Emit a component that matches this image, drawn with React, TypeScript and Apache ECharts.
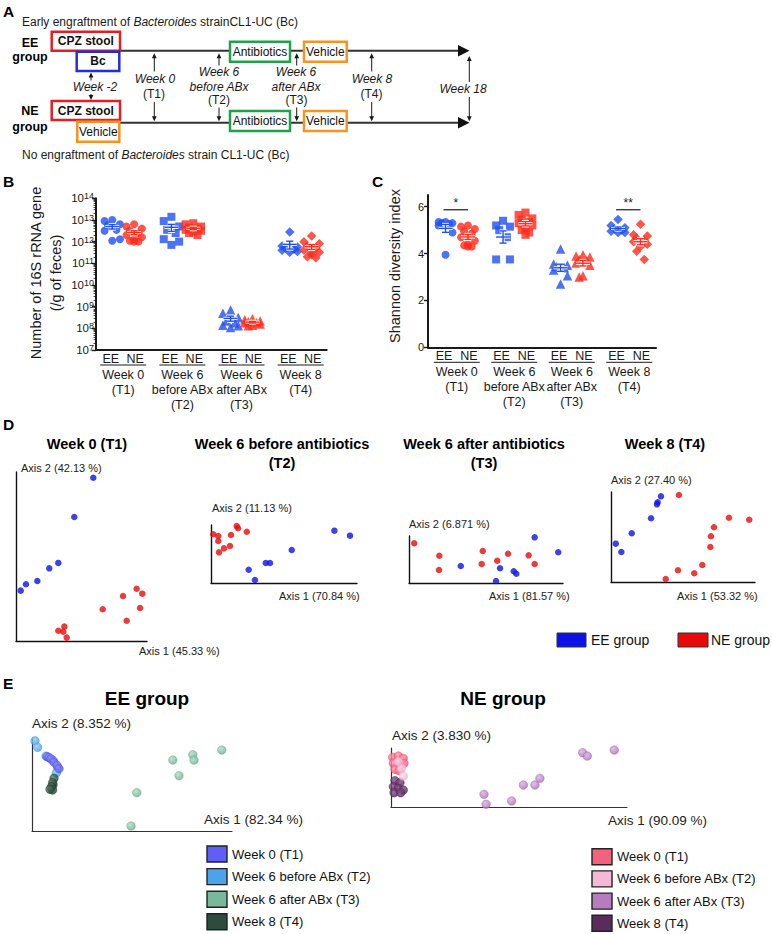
import React, { useEffect, useRef } from "react";
import * as echarts from "echarts";

const FONT = "'Liberation Sans', Arial, Helvetica, sans-serif";
const INK = "#1a1a1a";

// ---------------- Panels B & C ----------------
const PERIOD_LABELS = [
  ["Week 0", "(T1)"],
  ["Week 6", "before ABx", "(T2)"],
  ["Week 6", "after ABx", "(T3)"],
  ["Week 8", "(T4)"],
];
const GROUPS = ["EE", "NE"];
const SYMBOLS = ["circle", "rect", "triangle", "diamond"];
const SYMBOL_SIZES = [8, 8, 9.5, 9.5];
const JITTER = [0, -1, 1, -0.55, 0.55, -1, 1, 0, -0.55, 0.55, 0];

// B: number of 16S rRNA gene copies (/g of feces)
const B_EE_T1 = [1.0e13, 8.9e12, 6.3e12, 5.6e12, 3.5e12, 3.2e12, 1.3e12, 1.1e12];
const B_NE_T1 = [6.3e12, 5.0e12, 4.0e12, 3.2e12, 2.5e12, 2.0e12, 1.6e12, 1.3e12, 1.1e12, 1.0e12, 1.0e12];
const B_EE_T2 = [1.4e13, 8.9e12, 5.0e12, 3.5e12, 2.5e12, 1.3e12, 1.0e12, 7.1e11];
const B_NE_T2 = [7.1e12, 6.3e12, 5.0e12, 4.5e12, 4.0e12, 3.5e12, 3.2e12, 2.8e12, 2.5e12, 2.0e12];
const B_EE_T3 = [7.1e8, 5.0e8, 3.2e8, 2.2e8, 1.8e8, 1.4e8, 1.3e8, 1.1e8];
const B_NE_T3 = [2.8e8, 2.5e8, 2.2e8, 2.0e8, 1.8e8, 1.8e8, 1.6e8, 1.4e8, 1.3e8];
const B_EE_T4 = [2.8e12, 6.3e11, 5.6e11, 5.0e11, 4.5e11, 4.0e11, 3.5e11, 3.2e11];
const B_NE_T4 = [1.8e12, 1.0e12, 7.9e11, 6.3e11, 5.0e11, 4.0e11, 3.2e11, 2.5e11, 2.0e11, 1.8e11, 3.2e11];

// C: Shannon diversity index
const C_TICKS = [0, 2, 4, 6];
const C_EE_T1 = [5.35, 5.35, 5.3, 5.3, 5.25, 5.2, 4.9, 3.95];
const C_NE_T1 = [5.2, 5.15, 5.05, 4.95, 4.85, 4.7, 4.55, 4.4, 4.35, 4.3, 4.3];
const C_EE_T2 = [5.4, 5.2, 5.15, 5.0, 4.7, 3.75, 3.75];
const C_NE_T2 = [5.75, 5.65, 5.5, 5.45, 5.35, 5.3, 5.2, 5.1, 5.0, 4.9, 4.8];
const C_EE_T3 = [4.2, 3.55, 3.5, 3.45, 3.4, 3.3, 3.05, 2.7];
const C_NE_T3 = [3.95, 3.9, 3.85, 3.75, 3.7, 3.6, 3.5, 3.05, 3.0];
const C_EE_T4 = [5.45, 5.2, 5.1, 5.05, 5.0, 4.95, 4.9, 4.9];
const C_NE_T4 = [5.25, 4.8, 4.75, 4.65, 4.55, 4.5, 4.4, 4.3, 4.1, 3.75];
const C_SIGNIF = [
  { period: 0, label: "*" },
  { period: 3, label: "**" },
];

// ---------------- Panel D (PCoA per time point) ----------------
const D_TITLES = [["Week 0 (T1)"], ["Week 6 before antibiotics", "(T2)"], ["Week 6 after antibiotics", "(T3)"], ["Week 8 (T4)"]];
const D_AXIS1 = ["Axis 1 (45.33 %)", "Axis 1 (70.84 %)", "Axis 1 (81.57 %)", "Axis 1 (53.32 %)"];
const D_AXIS2 = ["Axis 2 (42.13 %)", "Axis 2 (11.13 %)", "Axis 2 (6.871 %)", "Axis 2 (27.40 %)"];
const D1_EE = [[59.0, 96.6], [44.5, 73.4], [32.3, 46.2], [25.4, 43.0], [16.3, 35.5], [7.6, 33.6], [3.6, 29.8]];
const D1_NE = [[92.1, 30.9], [96.4, 28.0], [81.7, 26.6], [66.2, 18.8], [94.7, 19.5], [84.5, 12.0], [36.9, 8.5], [32.3, 6.1], [36.1, 5.5], [38.7, 2.0]];
const D2_EE = [[84.5, 90.2], [95.2, 81.6], [55.3, 56.9], [37.5, 34.5], [40.4, 34.5], [25.8, 22.9], [30.1, 5.2]];
const D2_NE = [[1.6, 84.0], [5.0, 81.0], [5.0, 72.4], [13.7, 82.8], [17.6, 98.3], [18.5, 94.3], [24.5, 88.4], [13.0, 63.8], [8.9, 59.8], [5.5, 52.9]];
const D3_EE = [[81.6, 97.2], [96.9, 65.3], [33.6, 36.2], [59.1, 31.3], [68.0, 24.9], [69.7, 19.8], [56.5, 4.3]];
const D3_NE = [[3.4, 84.5], [19.7, 58.1], [19.5, 27.7], [47.9, 68.1], [47.2, 40.4], [57.3, 47.4], [64.3, 62.3], [77.7, 58.9], [81.6, 40.4]];
const D4_EE = [[34.7, 95.2], [32.4, 88.6], [31.9, 86.3], [27.8, 70.8], [14.4, 54.1], [3.3, 42.6], [7.2, 33.3]];
const D4_NE = [[47.2, 96.7], [81.9, 71.4], [96.0, 69.2], [71.5, 60.8], [69.4, 50.8], [69.0, 38.9], [63.4, 18.9], [46.5, 13.0], [57.8, 9.7], [38.0, 3.3]];
const D_LEGEND = ["EE group", "NE group"];

// ---------------- Panel E (PCoA per group) ----------------
const E_TITLES = ["EE group", "NE group"];
const E_AXIS1 = ["Axis 1 (82.34 %)", "Axis 1 (90.09 %)"];
const E_AXIS2 = ["Axis 2 (8.352 %)", "Axis 2 (3.830 %)"];
const E_LEGEND = ["Week 0 (T1)", "Week 6 before ABx (T2)", "Week 6 after ABx (T3)", "Week 8 (T4)"];
const E_EE_T1 = [[7.5, 80], [8.5, 79], [9.5, 77.5], [11, 74], [12.5, 70.5], [13.5, 67]];
const E_EE_T2 = [[1.5, 97], [2.8, 90], [7, 80.5], [10.5, 76], [12.8, 68], [12.2, 62.5]];
const E_EE_T3 = [[94.9, 87.1], [80.4, 82.0], [81.0, 76.3], [70.4, 76.3], [73.5, 59.5], [52.4, 41.2], [49.5, 5.4]];
const E_EE_T4 = [[11.0, 56.7], [10.5, 49.5], [10.3, 51.9], [9.8, 47.6], [10.3, 44.1], [9.0, 44.8]];
const E_NE_T1 = [[0.7, 84.2], [3.1, 86.4], [5.2, 82.5], [1.0, 74.1], [3.8, 71.2], [5.5, 74.1], [1.7, 63.9], [3.5, 61.5]];
const E_NE_T2 = [[4.5, 65.6], [5.2, 52.5], [3.1, 76.8]];
const E_NE_T3 = [[94.6, 96.6], [81.2, 92.0], [83.2, 86.4], [63.1, 48.6], [61.0, 37.3], [56.1, 37.3], [39.4, 21.5], [40.3, 4.6], [51.1, 10.2]];
const E_NE_T4 = [[1.7, 44.6], [3.8, 41.2], [1.0, 34.4], [3.1, 31.7], [5.2, 28.8], [1.3, 24.2], [4.1, 24.2]];

// ---------------- styles ----------------
const PT_BLUE = "#1f4ff2";
const PT_RED = "#ff2b1c";
const D_BLUE = "#0d12e6";
const D_RED = "#e80a0a";
const E_EE_COLORS = [
  ["#5252ea", "#9090ff", "#5f5ff7"],
  ["#3e9be6", "#93cdf6", "#4aa3eb"],
  ["#69ad8f", "#b0dcc8", "#78b99c"],
  ["#203d2f", "#55766a", "#2c4d3d"],
];
const E_NE_COLORS = [
  ["#e8506e", "#ff9aae", "#f2627c"],
  ["#eeaccf", "#fde3f0", "#f5b9d8"],
  ["#a86cb2", "#dbb0e1", "#b77cc0"],
  ["#4f2452", "#85508a", "#5b2b5d"],
];
const BOX_RED = "#e31e24";
const BOX_BLUE = "#1f2fe0";
const BOX_GREEN = "#1fa34a";
const BOX_ORANGE = "#f7931e";

const B_SEP = 0.185;
const C_SEP = 0.195;

function meanSem(a: number[]) {
  const n = a.length;
  const m = a.reduce((s, v) => s + v, 0) / n;
  const sd = Math.sqrt(a.reduce((s, v) => s + (v - m) * (v - m), 0) / (n - 1));
  return [m, sd / Math.sqrt(n)];
}

const errRender = (color: string) => (params: any, api: any) => {
  const x = api.value(0);
  const c = api.coord([x, api.value(1)]);
  const lo = api.coord([x, api.value(2)]);
  const hi = api.coord([x, api.value(3)]);
  const segs = [
    [c[0] - 7, c[1], c[0] + 7, c[1]],
    [c[0], lo[1], c[0], hi[1]],
    [c[0] - 3.5, lo[1], c[0] + 3.5, lo[1]],
    [c[0] - 3.5, hi[1], c[0] + 3.5, hi[1]],
  ];
  const mk = (stroke: string, w: number) =>
    segs.map((s) => ({ type: "line", shape: { x1: s[0], y1: s[1], x2: s[2], y2: s[3] }, style: { stroke, lineWidth: w } }));
  return { type: "group", children: [...mk("#ffffff", 3.2), ...mk(color, 1.4)] };
};

function dotSeries(axis: number, groups: number[][][], sep: number, spread: number) {
  const out: any[] = [];
  groups.forEach((periods, gi) => {
    const color = gi ? PT_RED : PT_BLUE;
    const off = gi ? sep : -sep;
    periods.forEach((vals, p) => {
      out.push({
        type: "scatter",
        xAxisIndex: axis,
        yAxisIndex: axis,
        symbol: SYMBOLS[p],
        symbolSize: SYMBOL_SIZES[p],
        itemStyle: { color },
        clip: false,
        silent: true,
        z: 3,
        data: vals.map((v, i) => [p + off + JITTER[i % JITTER.length] * spread, v]),
      });
    });
    out.push({
      type: "custom",
      xAxisIndex: axis,
      yAxisIndex: axis,
      z: 4,
      silent: true,
      renderItem: errRender(color),
      encode: { x: 0, y: [1, 2, 3] },
      data: periods.map((vals, p) => {
        const [m, s] = meanSem(vals);
        return [p + off, m, m - s, m + s];
      }),
    });
  });
  return out;
}

const plainAxis = (gi: number, min: number, max: number, w: number, color: string) => ({
  gridIndex: gi,
  type: "value",
  min,
  max,
  axisLine: { show: true, onZero: false, lineStyle: { color, width: w } },
  axisTick: { show: false },
  axisLabel: { show: false },
  splitLine: { show: false },
});

function sphere(c: string[]) {
  return {
    type: "radial",
    x: 0.38,
    y: 0.35,
    r: 0.7,
    colorStops: [
      { offset: 0, color: c[1] },
      { offset: 1, color: c[0] },
    ],
  };
}

function buildOption() {
  const grids = [
    { left: 96, top: 198.3, width: 230.7, height: 151.7 }, // B
    { left: 428, top: 195, width: 228, height: 152.3 }, // C
    { left: 16, top: 472, width: 131, height: 169 }, // D1
    { left: 211, top: 525, width: 146, height: 58 }, // D2
    { left: 409, top: 536, width: 154, height: 47 }, // D3
    { left: 611, top: 492, width: 144, height: 90 }, // D4
    { left: 32, top: 738, width: 200, height: 93 }, // E EE
    { left: 391, top: 748, width: 236, height: 59 }, // E NE
  ].map((g) => ({ ...g, outerBoundsMode: "none", containLabel: false }));

  const xAxis: any[] = [
    plainAxis(0, -0.46, 3.44, 2, INK),
    plainAxis(1, -0.5, 3.465, 2, INK),
    plainAxis(2, 0, 100, 1.4, "#111"),
    plainAxis(3, 0, 100, 1.4, "#111"),
    plainAxis(4, 0, 100, 1.4, "#111"),
    plainAxis(5, 0, 100, 1.4, "#111"),
    plainAxis(6, 0, 100, 1.2, "#333"),
    plainAxis(7, 0, 100, 1.2, "#333"),
  ];
  const yAxis: any[] = [
    {
      gridIndex: 0,
      type: "log",
      logBase: 10,
      min: 1e7,
      max: 1e14,
      splitNumber: 7,
      axisLine: { show: true, onZero: false, lineStyle: { color: INK, width: 2 } },
      axisTick: { show: true, length: 4, lineStyle: { color: INK, width: 1.4 } },
      minorTick: { show: true, splitNumber: 9, length: 2.5, lineStyle: { color: INK, width: 0.8 } },
      splitLine: { show: false },
      minorSplitLine: { show: false },
      axisLabel: {
        show: true,
        margin: 2,
        formatter: (v: number) => `{b|10}{s|${Math.round(Math.log10(v))}}`,
        rich: {
          b: { fontSize: 11.5, fontFamily: FONT, color: INK, lineHeight: 13 },
          s: { fontSize: 9, fontFamily: FONT, color: INK, lineHeight: 9, verticalAlign: "top" },
        },
      },
    },
    {
      gridIndex: 1,
      type: "value",
      min: 0,
      max: 6.5,
      axisLine: { show: true, onZero: false, lineStyle: { color: INK, width: 2 } },
      axisTick: { show: true, length: 4, customValues: C_TICKS, lineStyle: { color: INK, width: 1.4 } },
      axisLabel: { show: true, customValues: C_TICKS, fontSize: 11, fontFamily: FONT, color: INK, margin: 4 },
      splitLine: { show: false },
    },
    plainAxis(2, 0, 100, 1.4, "#111"),
    plainAxis(3, 0, 100, 1.4, "#111"),
    plainAxis(4, 0, 100, 1.4, "#111"),
    plainAxis(5, 0, 100, 1.4, "#111"),
    plainAxis(6, 0, 100, 1.2, "#333"),
    plainAxis(7, 0, 100, 1.2, "#333"),
  ];

  const series: any[] = [];
  series.push(
    ...dotSeries(0, [[B_EE_T1, B_EE_T2, B_EE_T3, B_EE_T4], [B_NE_T1, B_NE_T2, B_NE_T3, B_NE_T4]], B_SEP, 0.13)
  );
  series.push(
    ...dotSeries(1, [[C_EE_T1, C_EE_T2, C_EE_T3, C_EE_T4], [C_NE_T1, C_NE_T2, C_NE_T3, C_NE_T4]], C_SEP, 0.12)
  );

  const dPairs = [
    [D1_EE, D1_NE],
    [D2_EE, D2_NE],
    [D3_EE, D3_NE],
    [D4_EE, D4_NE],
  ];
  dPairs.forEach((pair, k) => {
    pair.forEach((data, gi) => {
      series.push({
        type: "scatter",
        xAxisIndex: 2 + k,
        yAxisIndex: 2 + k,
        data,
        symbolSize: 6.5,
        itemStyle: { color: gi ? D_RED : D_BLUE },
        clip: false,
        silent: true,
      });
    });
  });

  const eSets = [
    { axis: 6, sets: [E_EE_T1, E_EE_T2, E_EE_T3, E_EE_T4], colors: E_EE_COLORS, order: [1, 0, 3, 2] },
    { axis: 7, sets: [E_NE_T1, E_NE_T2, E_NE_T3, E_NE_T4], colors: E_NE_COLORS, order: [3, 0, 1, 2] },
  ];
  eSets.forEach((e) => {
    e.order.forEach((t, zi) => {
      series.push({
        type: "scatter",
        xAxisIndex: e.axis,
        yAxisIndex: e.axis,
        data: e.sets[t],
        symbolSize: 8.5,
        z: 2 + zi,
        itemStyle: { color: sphere(e.colors[t]), borderColor: e.colors[t][0], borderWidth: 0.6 },
        clip: false,
        silent: true,
      });
    });
  });

  return {
    animation: false,
    backgroundColor: "#ffffff",
    textStyle: { fontFamily: FONT },
    grid: grids,
    xAxis,
    yAxis,
    series,
  };
}

function buildGraphics(chart: any) {
  const g: any[] = [];
  const T = (x: number, y: number, text: string, o: any = {}) =>
    g.push({
      type: "text",
      x,
      y,
      rotation: o.rot || 0,
      z: 50,
      style: {
        text,
        fontFamily: FONT,
        fontSize: o.size || 12,
        fontWeight: o.bold ? "bold" : "normal",
        fontStyle: o.italic ? "italic" : "normal",
        fill: o.color || INK,
        align: o.align || "left",
        verticalAlign: "middle",
        lineHeight: o.lh,
        rich: o.rich,
      },
    });
  const L = (x1: number, y1: number, x2: number, y2: number, stroke = INK, w = 1) =>
    g.push({ type: "line", z: 40, shape: { x1, y1, x2, y2 }, style: { stroke, lineWidth: w } });
  const P = (pts: number[][], fill = INK) => g.push({ type: "polygon", z: 41, shape: { points: pts }, style: { fill } });
  const R = (x: number, y: number, w: number, h: number, fill: string, stroke: string, lw: number, z = 45) =>
    g.push({ type: "rect", z, shape: { x, y, width: w, height: h }, style: { fill, stroke, lineWidth: lw } });

  // ---------- Panel A ----------
  T(3, 11, "A", { bold: true, size: 15.5, color: "#000" });
  const ital = { i: { fontStyle: "italic", fontFamily: FONT, fontSize: 12, fill: INK } };
  T(22, 22, "Early engraftment of {i|Bacteroides} strainCL1-UC (Bc)", { rich: ital });
  T(22, 155, "No engraftment of {i|Bacteroides} strain CL1-UC (Bc)", { rich: ital });
  T(30, 42.5, "EE", { bold: true, size: 12.5, align: "center", color: "#000" });
  T(30, 57, "group", { bold: true, size: 12.5, align: "center", color: "#000" });
  T(30, 111, "NE", { bold: true, size: 12.5, align: "center", color: "#000" });
  T(30, 126.5, "group", { bold: true, size: 12.5, align: "center", color: "#000" });

  // timelines
  L(120, 50.7, 460, 50.7, "#333", 2);
  P([[458, 45], [469.5, 50.7], [458, 56.4]], "#111");
  L(119, 122.7, 460, 122.7, "#333", 2);
  P([[458, 117], [469.5, 122.7], [458, 128.4]], "#111");

  const box = (x: number, y: number, w: number, h: number, color: string, text: string, bold = false) => {
    R(x, y, w, h, "#ffffff", color, 2.5);
    T(x + w / 2, y + h / 2, text, { align: "center", bold, size: 12, color: "#111" });
  };
  box(51.7, 31.7, 68.3, 19, BOX_RED, "CPZ stool", true);
  box(76.7, 51.7, 42.6, 19.3, BOX_BLUE, "Bc", true);
  box(230, 41.7, 60, 20, BOX_GREEN, "Antibiotics");
  box(304, 41.7, 42.7, 20, BOX_ORANGE, "Vehicle");
  box(51.7, 101, 68.3, 19, BOX_RED, "CPZ stool", true);
  box(77.3, 121.7, 42, 20, BOX_ORANGE, "Vehicle");
  box(230, 111, 60, 20, BOX_GREEN, "Antibiotics");
  box(304, 111, 42.7, 20, BOX_ORANGE, "Vehicle");

  const arrow = (x: number, yFrom: number, yTo: number) => {
    const dir = yTo > yFrom ? 1 : -1;
    L(x, yFrom, x, yTo - dir * 4, INK, 1);
    P([[x - 2.4, yTo - dir * 5], [x + 2.4, yTo - dir * 5], [x, yTo]], INK);
  };
  // Week -2
  arrow(91, 80.5, 72.5);
  arrow(91, 94, 100);
  T(95, 87, "Week -2", { italic: true, align: "center" });
  // Week 0 (T1)
  arrow(154.3, 71.5, 53.3);
  arrow(154.3, 102, 121.3);
  T(155, 79, "Week 0", { italic: true, align: "center" });
  T(154, 94, "(T1)", { align: "center" });
  // Week 6 before ABx (T2)
  arrow(219, 65.5, 53.3);
  arrow(219, 107.5, 121.3);
  T(219, 72, "Week 6", { italic: true, align: "center" });
  T(219, 87, "before ABx", { italic: true, align: "center" });
  T(219, 100, "(T2)", { align: "center" });
  // Week 6 after ABx (T3)
  arrow(296.7, 65.5, 53.3);
  arrow(296.7, 107.5, 121.3);
  T(296, 72, "Week 6", { italic: true, align: "center" });
  T(296, 87, "after ABx", { italic: true, align: "center" });
  T(296.5, 99.5, "(T3)", { align: "center" });
  // Week 8 (T4)
  arrow(371.7, 71.5, 53.3);
  arrow(371.7, 102, 121.3);
  T(372, 79, "Week 8", { italic: true, align: "center" });
  T(371.5, 94, "(T4)", { align: "center" });
  // Week 18
  arrow(469.3, 82, 56);
  arrow(469.3, 97, 121.3);
  T(463, 89, "Week 18", { italic: true, align: "center" });

  // ---------- Panel B & C labels ----------
  T(3, 181.3, "B", { bold: true, size: 15.5, color: "#000" });
  T(372, 181.3, "C", { bold: true, size: 15.5, color: "#000" });
  T(46, 273, "Number of 16S rRNA gene\n(/g of feces)", { size: 14.5, align: "center", rot: Math.PI / 2, lh: 20 });
  T(395, 266, "Shannon diversity index", { size: 14.5, align: "center", rot: Math.PI / 2 });

  const xLabels = (axis: number, yMin: number, sep: number) => {
    for (let p = 0; p < PERIOD_LABELS.length; p++) {
      const ee = chart.convertToPixel({ xAxisIndex: axis, yAxisIndex: axis }, [p - sep, yMin]);
      const ne = chart.convertToPixel({ xAxisIndex: axis, yAxisIndex: axis }, [p + sep, yMin]);
      const cx = (ee[0] + ne[0]) / 2;
      const yb = ee[1];
      T(ee[0] - 1.5, yb + 8.5, GROUPS[0], { align: "center", size: 12.5 });
      T(ne[0] + 1, yb + 8.5, GROUPS[1], { align: "center", size: 12.5 });
      L(cx - 23, yb + 15, cx + 23, yb + 15, INK, 1);
      PERIOD_LABELS[p].forEach((s, k) => T(cx, yb + 25 + 15 * k, s, { align: "center", size: 12.5 }));
    }
  };
  xLabels(0, 1e7, B_SEP);
  xLabels(1, 0, C_SEP);

  C_SIGNIF.forEach((s) => {
    const a = chart.convertToPixel({ xAxisIndex: 1, yAxisIndex: 1 }, [s.period - C_SEP, 5.87]);
    const b = chart.convertToPixel({ xAxisIndex: 1, yAxisIndex: 1 }, [s.period + C_SEP, 5.87]);
    L(a[0] - 2, a[1], b[0], b[1], INK, 1.2);
    T((a[0] + b[0]) / 2 - 1, a[1] - 6.5, s.label, { align: "center", size: 12 });
  });

  // ---------- Panel D ----------
  T(3, 424, "D", { bold: true, size: 15.5, color: "#000" });
  const dTitleX = [87, 282, 484, 665];
  D_TITLES.forEach((lines, k) =>
    lines.forEach((s, j) => T(dTitleX[k], 444 + 19.3 * j, s, { bold: true, size: 14.5, align: "center", color: "#000" }))
  );
  const dAx2 = [[21, 468], [212, 508], [409, 524], [611, 480]];
  const dAx1 = [[139, 651], [279, 596], [489, 596], [677, 596]];
  D_AXIS2.forEach((s, k) => T(dAx2[k][0], dAx2[k][1], s, { size: 11, color: "#222" }));
  D_AXIS1.forEach((s, k) => T(dAx1[k][0], dAx1[k][1], s, { size: 11, color: "#222" }));
  R(557, 633, 29, 14, D_BLUE, "#333", 1);
  T(591, 640, D_LEGEND[0], { size: 14, color: "#111" });
  R(678, 633, 30, 14, D_RED, "#333", 1);
  T(711, 640, D_LEGEND[1], { size: 14, color: "#111" });

  // ---------- Panel E ----------
  T(3, 683, "E", { bold: true, size: 15.5, color: "#000" });
  T(147, 698, E_TITLES[0], { bold: true, size: 19, align: "center", color: "#000" });
  T(503, 698, E_TITLES[1], { bold: true, size: 19, align: "center", color: "#000" });
  T(32, 723, E_AXIS2[0], { size: 13.5, color: "#222" });
  T(204, 819, E_AXIS1[0], { size: 13.5, color: "#222" });
  T(392, 735, E_AXIS2[1], { size: 13.5, color: "#222" });
  T(608, 820, E_AXIS1[1], { size: 13.5, color: "#222" });
  E_LEGEND.forEach((s, k) => {
    R(207, 846 + 22.6 * k, 20, 16, E_EE_COLORS[k][2], "#222", 1.4);
    T(232, 854 + 22.6 * k, s, { size: 13, color: "#111" });
    R(592, 848.7 + 22.2 * k, 20, 16, E_NE_COLORS[k][2], "#222", 1.4);
    T(617, 856.7 + 22.2 * k, s, { size: 13, color: "#111" });
  });

  return g;
}

export default function App() {
  const ref = useRef<HTMLDivElement>(null);
  useEffect(() => {
    if (!ref.current) return;
    const chart = echarts.init(ref.current, null, { renderer: "svg" });
    chart.setOption(buildOption() as any);
    chart.setOption({ graphic: buildGraphics(chart) } as any);
    return () => chart.dispose();
  }, []);
  return (
    <div
      ref={ref}
      style={{ position: "fixed", left: 0, top: 0, width: 772, height: 934, background: "#ffffff" }}
    />
  );
}
